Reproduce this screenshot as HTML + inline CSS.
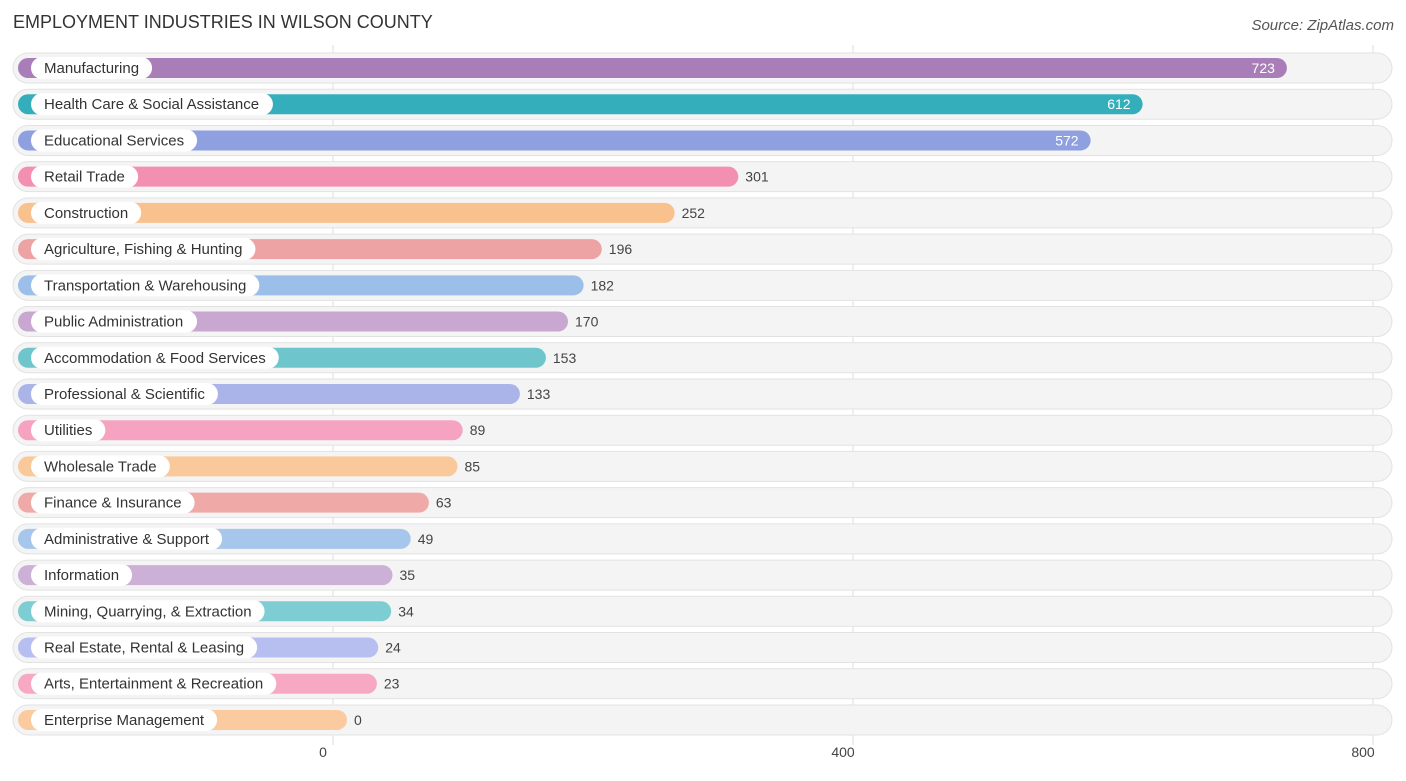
<!DOCTYPE html>
<html><head><meta charset="utf-8"><style>
body{margin:0;background:#fff;font-family:"Liberation Sans",sans-serif;}
svg text{font-family:"Liberation Sans",sans-serif;}
</style></head><body>
<svg id="chart" width="1406" height="776">
<text x="13" y="28" font-size="18" fill="#333">EMPLOYMENT INDUSTRIES IN WILSON COUNTY</text>
<text x="1394" y="30" font-size="15" fill="#555" font-style="italic" text-anchor="end">Source: ZipAtlas.com</text>
<g id="grid"></g><g id="rows"></g><g id="ticks"></g>
</svg>
<script>
const categories=["Manufacturing","Health Care & Social Assistance","Educational Services","Retail Trade","Construction","Agriculture, Fishing & Hunting","Transportation & Warehousing","Public Administration","Accommodation & Food Services","Professional & Scientific","Utilities","Wholesale Trade","Finance & Insurance","Administrative & Support","Information","Mining, Quarrying, & Extraction","Real Estate, Rental & Leasing","Arts, Entertainment & Recreation","Enterprise Management"];
const values=[723,612,572,301,252,196,182,170,153,133,89,85,63,49,35,34,24,23,0];
const colors=["#a97db8","#35aebb","#8fa0e0","#f38fb1","#f9c18d","#eda3a3","#9bbfe8","#c8a7d0","#6ec6cc","#aab4e8","#f5a3c0","#f9c99b","#efaaa8","#a7c6ec","#cdb0d6","#7dcdd2","#b7bff0","#f7a9c3","#fbcb9f"];
const tickValues=[0,400,800];
const NS="http://www.w3.org/2000/svg";
const x0=333,kx=1.3;
const xs=v=>x0+v*kx;
const yc=i=>68+i*36.22;
function mk(t,a,p){const e=document.createElementNS(NS,t);for(const k in a)e.setAttribute(k,a[k]);p.appendChild(e);return e;}
const grid=document.getElementById('grid'),rows=document.getElementById('rows'),ticks=document.getElementById('ticks');
tickValues.forEach(v=>{
 const l=mk('line',{x1:xs(v),x2:xs(v),y1:45,y2:745,stroke:'#ddd','stroke-width':1},grid);
 
 
 const t=mk('text',{x:xs(v)-10,y:757,'font-size':14,fill:'#444','text-anchor':'middle'},ticks);
 t.textContent=v;
 
 
});
const cv=document.createElement('canvas').getContext('2d');cv.font='15px "Liberation Sans"';
categories.forEach((c,i)=>{
 const y=yc(i),v=values[i];
 const g=mk('g',{},rows);
 
 
 const bg=mk('rect',{x:13,y:y-15,width:1379,height:30,rx:15,fill:'#f4f4f4',stroke:'#e2e2e2'},g);
 
 
 const end=xs(v)+14;
 const b=mk('rect',{x:18,y:y-10,width:end-18,height:20,rx:10,fill:colors[i]},g);
 
 
 const tw=cv.measureText(c).width;
 const p=mk('rect',{x:31,y:y-11,width:tw+26,height:22,rx:11,fill:'#fff'},g);
 
 
 const t=mk('text',{x:44,y:y+5,'font-size':15,fill:'#333'},g);
 t.textContent=c;
 
 
 const inside=v>500;
 const vt=mk('text',{x:inside?end-12:end+7,y:y+5,'font-size':14,fill:inside?'#fff':'#444','text-anchor':inside?'end':'start'},g);
 vt.textContent=v;
 
 
});
</script>
</body></html>
